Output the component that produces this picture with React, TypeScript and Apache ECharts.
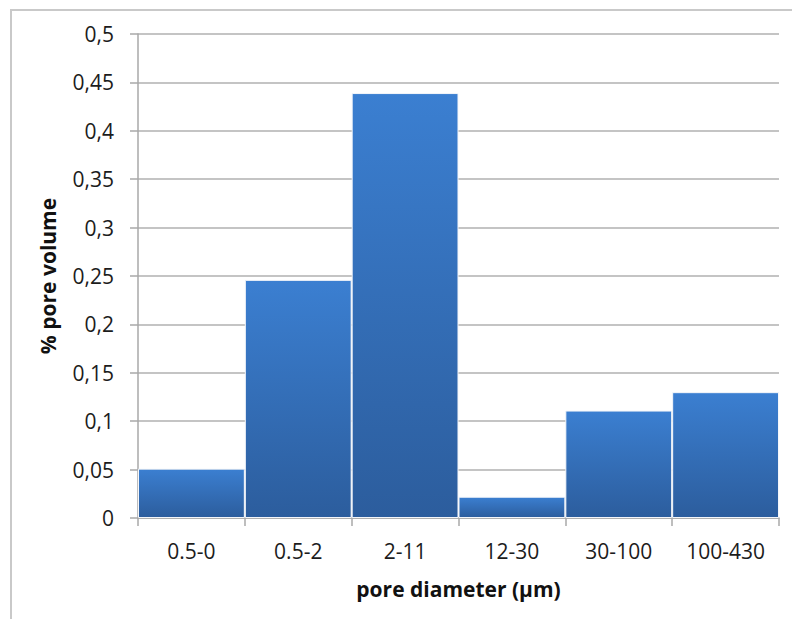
import React, { useEffect, useRef } from "react";
import * as echarts from "echarts";

const categories = ["0.5-0", "0.5-2", "2-11", "12-30", "30-100", "100-430"];
const poreVolume = [0.051, 0.246, 0.439, 0.022, 0.111, 0.13];
const yTicks = { min: 0, max: 0.5, interval: 0.05 };
const xName = "pore diameter (µm)";
const yName = "% pore volume";

const FONT = "'Open Sans', sans-serif";

export default function App() {
  const ref = useRef<HTMLDivElement>(null);
  useEffect(() => {
    const chart = echarts.init(ref.current!, null, { renderer: "svg" });
    chart.setOption({
      animation: false,
      backgroundColor: "#ffffff",
      textStyle: { fontFamily: FONT },
      graphic: [
        {
          type: "rect",
          shape: { x: 11, y: 10, width: 820, height: 700 },
          style: { fill: "none", stroke: "#c9c9c9", lineWidth: 2 },
          silent: true,
        },
      ],
      grid: { left: 138, top: 34, right: 13, bottom: 101, containLabel: false },
      xAxis: {
        type: "category",
        data: categories,
        name: xName,
        nameLocation: "middle",
        nameGap: 60,
        nameTextStyle: { fontFamily: FONT, fontWeight: "bold", fontSize: 21, color: "#111" },
        axisLine: { show: true, lineStyle: { color: "#a8a8a8", width: 1.5 } },
        axisTick: { show: true, length: 8, lineStyle: { color: "#a8a8a8", width: 1.5 } },
        axisLabel: { fontFamily: FONT, fontSize: 21, color: "#1c1c1c", margin: 22 },
      },
      yAxis: {
        type: "value",
        min: yTicks.min,
        max: yTicks.max,
        interval: yTicks.interval,
        name: yName,
        nameLocation: "middle",
        nameRotate: 90,
        nameGap: 80,
        nameTextStyle: { fontFamily: FONT, fontWeight: "bold", fontSize: 21, color: "#111" },
        axisLine: { show: true, lineStyle: { color: "#a8a8a8", width: 1.5 } },
        axisTick: { show: true, length: 8, lineStyle: { color: "#a8a8a8", width: 1.5 } },
        axisLabel: {
          fontFamily: FONT,
          fontSize: 21,
          color: "#1c1c1c",
          margin: 24,
          formatter: (v: number) => String(Math.round(v * 100) / 100).replace(".", ","),
        },
        splitLine: { show: true, lineStyle: { color: "#c4c4c4", width: 2 } },
      },
      series: [
        {
          type: "bar",
          data: poreVolume,
          barCategoryGap: "0%",
          itemStyle: {
            color: new echarts.graphic.LinearGradient(0, 0, 0, 1, [
              { offset: 0, color: "#3b7fd1" },
              { offset: 1, color: "#2c5d9d" },
            ]),
            borderColor: "#f4f6fa",
            borderWidth: 1,
          },
        },
      ],
    });
    return () => chart.dispose();
  }, []);
  return (
    <div
      ref={ref}
      style={{ position: "fixed", left: 0, top: 0, width: 792, height: 619 }}
    />
  );
}
